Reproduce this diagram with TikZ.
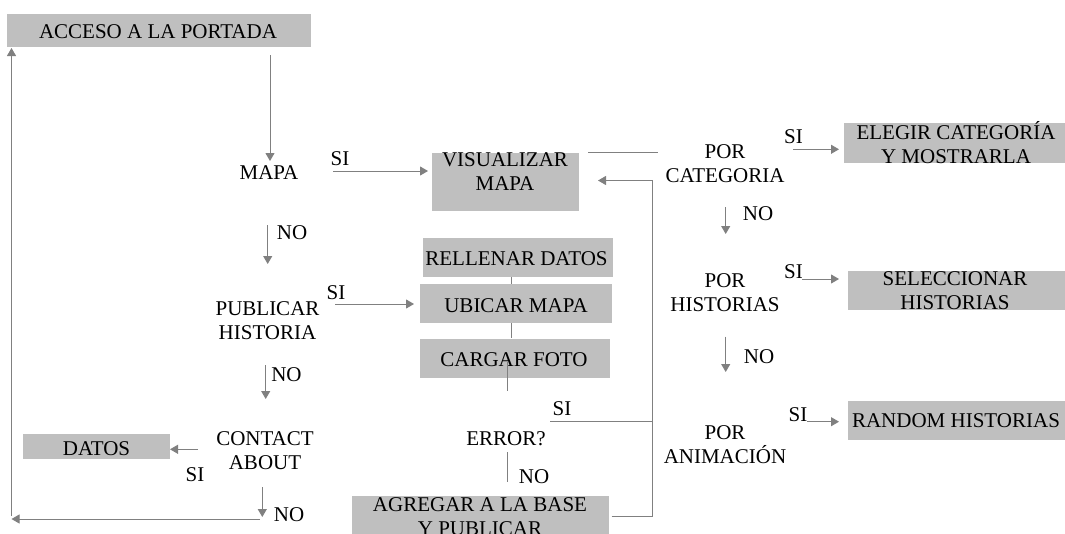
\documentclass[tikz,border=0pt]{standalone}
\usepackage{fontspec}
\setmainfont{Liberation Serif}
\usetikzlibrary{arrows.meta}
\definecolor{boxgray}{HTML}{BFBFBF}
\definecolor{linegray}{HTML}{808080}
\begin{document}
\begin{tikzpicture}[x=1pt,y=-1pt,
  box/.style={fill=boxgray,draw=none,inner sep=0pt,outer sep=0pt},
  txt/.style={font=\fontsize{21}{24}\selectfont,align=center,inner sep=0pt,text=black},
  arr/.style={draw=linegray,line width=1pt,-{Triangle[length=8pt,width=9pt]}},
  ln/.style={draw=linegray,line width=1pt}]
\clip (0,0) rectangle (1065,533);
\fill[white] (0,0) rectangle (1065,533);

% connector behind the form boxes
\coordinate (fa) at (511,277);
\coordinate (fb) at (511,338);
\draw[ln] (fa) -- (fb);

% boxes
\node[box,minimum width=304pt,minimum height=33pt] (accesobox) at (158.7,30.7) {};
\node[box,minimum width=147pt,minimum height=58pt] (visbox) at (505.7,181.7) {};
\node[box,minimum width=190pt,minimum height=39pt] (rellbox) at (517.7,257.8) {};
\node[box,minimum width=192pt,minimum height=39pt] (ubicbox) at (515.8,303.8) {};
\node[box,minimum width=190pt,minimum height=39pt] (cargbox) at (515,358) {};
\node[box,minimum width=257pt,minimum height=50pt] (agregbox) at (480,521) {};
\node[box,minimum width=226pt,minimum height=39.4pt] (elegbox) at (957,143) {};
\node[box,minimum width=222pt,minimum height=39.3pt] (selecbox) at (958.7,290.4) {};
\node[box,minimum width=222pt,minimum height=39pt] (randbox) at (958.7,420.5) {};
\node[box,minimum width=147pt,minimum height=25pt] (datosbox) at (96.7,446.8) {};

% texts
\node[txt] (acceso) at (158,31.5) {ACCESO A LA PORTADA};
\node[txt] (mapa) at (269,172.5) {MAPA};
\node[txt] (vis) at (505,171.4) {VISUALIZAR\\MAPA};
\node[txt] (rell) at (516.5,259) {RELLENAR DATOS};
\node[txt] (ubic) at (516,305.5) {UBICAR MAPA};
\node[txt] (carg) at (514,359.5) {CARGAR FOTO};
\node[txt] (error) at (506,438.5) {ERROR?};
\node[txt] (agreg) at (480,517) {AGREGAR A LA BASE\\Y PUBLICAR};
\node[txt] (publ) at (267.5,320.5) {PUBLICAR\\HISTORIA};
\node[txt] (contact) at (265,451) {CONTACT\\ABOUT};
\node[txt] (datos) at (96.5,448.5) {DATOS};
\node[txt] (porcat) at (725,163.5) {POR\\CATEGORIA};
\node[txt] (porhist) at (725,292.5) {POR\\HISTORIAS};
\node[txt] (poranim) at (725,444.5) {POR\\ANIMACIÓN};
\node[txt] (eleg) at (956,142.5) {ELEGIR CATEGORÍA\\Y MOSTRARLA};
\node[txt] (selec) at (955,291) {SELECCIONAR\\HISTORIAS};
\node[txt] (rand) at (956,420.5) {RANDOM HISTORIAS};

% yes / no labels
\node[txt] (siMapa) at (340,159) {SI};
\node[txt] (noMapa) at (292,233) {NO};
\node[txt] (siPubl) at (336,292.7) {SI};
\node[txt] (noPubl) at (286.5,375) {NO};
\node[txt] (siCont) at (195,475) {SI};
\node[txt] (noCont) at (289,515) {NO};
\node[txt] (siErr) at (562,409) {SI};
\node[txt] (noErr) at (534,476.5) {NO};
\node[txt] (siCat) at (793.5,137) {SI};
\node[txt] (noCat) at (758,214) {NO};
\node[txt] (siHist) at (793.5,272) {SI};
\node[txt] (noHist) at (759,356.5) {NO};
\node[txt] (siAnim) at (798,415) {SI};

% connector end points
\coordinate (c1a) at (270,55);    \coordinate (c1b) at (270,161);
\coordinate (c2a) at (333,171);   \coordinate (c2b) at (428,171);
\coordinate (c3a) at (588,152.5); \coordinate (c3b) at (658,152.5);
\coordinate (lpA) at (611.7,516.7); \coordinate (lpB) at (652.3,516.7);
\coordinate (lpC) at (652.3,180.5); \coordinate (lpD) at (598,180.5);
\coordinate (esA) at (550,421.3); \coordinate (esB) at (652.3,421.3);
\coordinate (nmA) at (267.7,225); \coordinate (nmB) at (267.7,264);
\coordinate (spA) at (335,304);   \coordinate (spB) at (414,304);
\coordinate (npA) at (265.7,365); \coordinate (npB) at (265.7,399);
\coordinate (scA) at (198,449.3); \coordinate (scB) at (170,449.3);
\coordinate (ncA) at (262.3,487); \coordinate (ncB) at (262.3,517);
\coordinate (rtA) at (260,519);   \coordinate (rtB) at (11.5,519);
\coordinate (rtC) at (11.5,516);  \coordinate (rtD) at (11.5,48);
\coordinate (fc) at (507.5,362);  \coordinate (fd) at (507.5,391);
\coordinate (enA) at (507,452);   \coordinate (enB) at (507,482);
\coordinate (pcA) at (793,149.3); \coordinate (pcB) at (839,149.3);
\coordinate (ncaA) at (725.7,207); \coordinate (ncaB) at (725.7,234);
\coordinate (phA) at (802,279);   \coordinate (phB) at (839,279);
\coordinate (nhA) at (725.7,336.7); \coordinate (nhB) at (725.7,372);
\coordinate (paA) at (807,421.7); \coordinate (paB) at (839,421.7);

% connectors
\draw[arr] (c1a) -- (c1b);
\draw[arr] (c2a) -- (c2b);
\draw[ln] (c3a) -- (c3b);
\draw[arr] (lpA) -- (lpB) -- (lpC) -- (lpD);
\draw[ln] (esA) -- (esB);
\draw[arr] (nmA) -- (nmB);
\draw[arr] (spA) -- (spB);
\draw[arr] (npA) -- (npB);
\draw[arr] (scA) -- (scB);
\draw[arr] (ncA) -- (ncB);
\draw[arr] (rtA) -- (rtB);
\draw[arr] (rtC) -- (rtD);
\draw[ln] (fc) -- (fd);
\draw[ln] (enA) -- (enB);
\draw[arr] (pcA) -- (pcB);
\draw[arr] (ncaA) -- (ncaB);
\draw[arr] (phA) -- (phB);
\draw[arr] (nhA) -- (nhB);
\draw[arr] (paA) -- (paB);
\end{tikzpicture}
\end{document}
